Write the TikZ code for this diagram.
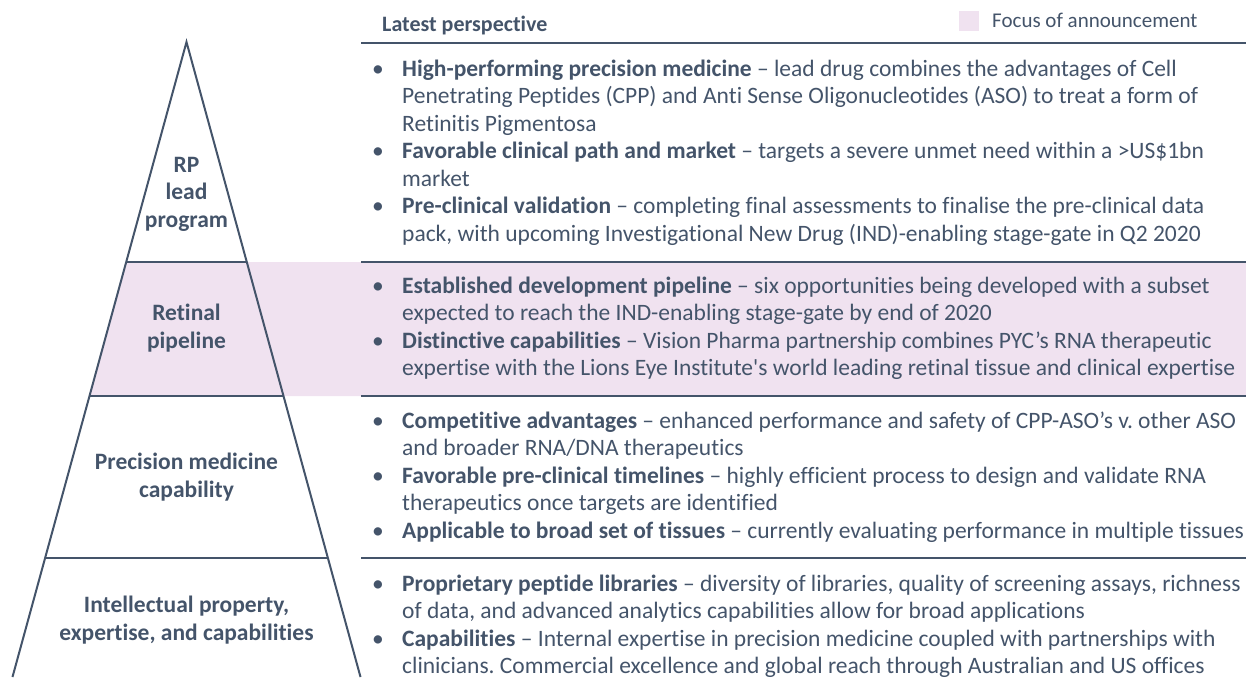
\documentclass[tikz,border=0pt]{standalone}
\usepackage{fontspec}
\setmainfont[Ligatures={NoCommon}]{Carlito}
\usetikzlibrary{calc}

\definecolor{slate}{HTML}{44546A}
\definecolor{focus}{RGB}{240,226,240}
\frenchspacing

\begin{document}
\begin{tikzpicture}[x=1pt,y=-1pt]
    \tikzstyle{every node}=[text=slate, inner sep=0pt, font=\fontsize{23.5}{27.5}\selectfont]
    \tikzstyle{tier}=[align=center, font=\fontsize{23.5}{27.5}\selectfont\bfseries]
    % item nodes sit on the baseline of their last line
    \tikzstyle{item}=[anchor=base west, align=left]
    \tikzstyle{dot}=[anchor=base]
    \tikzstyle{rule}=[slate, line width=1.5pt]
    \tikzstyle{edge}=[slate, line width=2pt]

    \useasboundingbox (0,0) rectangle (1246,677);

    % pyramid outline and tier borders
    \coordinate (top) at (186.5,42);
    \coordinate (bl) at (12.5,677);
    \coordinate (br) at (360.5,677);
    \coordinate (l1) at ($(top)!0.3465!(bl)$);
    \coordinate (r1) at ($(top)!0.3465!(br)$);
    \coordinate (l2) at ($(top)!0.5575!(bl)$);
    \coordinate (r2) at ($(top)!0.5575!(br)$);
    \coordinate (l3) at ($(top)!0.8126!(bl)$);
    \coordinate (r3) at ($(top)!0.8126!(br)$);

    % highlighted row
    \fill[focus] (l1) -- (1246,262) -- (1246,396) -- (l2) -- cycle;

    \draw[rule] (361,43) -- (1246,43);
    \draw[rule] (361,262) -- (1246,262);
    \draw[rule] (361,396) -- (1246,396);
    \draw[rule] (361,558) -- (1246,558);

    \draw[edge] (bl) -- (top) -- (br);
    \draw[edge] (l1) -- (r1);
    \draw[edge] (l2) -- (r2);
    \draw[edge] (l3) -- (r3);

    \node[tier] (rp) at (186.5,194) {RP\\lead\\program};
    \node[tier] (retinal) at (186.5,328) {Retinal\\pipeline};
    \node[tier] (precision) at (186.5,477) {Precision medicine\\capability};
    \node[tier] (ip) at (186.5,620) {Intellectual property,\\expertise, and capabilities};

    % header and legend
    \node[anchor=base west, font=\fontsize{22}{26}\selectfont\bfseries] (head) at (382,32) {Latest perspective};
    \node[fill=focus, minimum size=20pt] (key) at (969,21) {};
    \node[anchor=base west, font=\fontsize{21}{25}\selectfont] (keytext) at (992,28) {Focus of announcement};

    % lead program
    \node[dot] (d1) at (378,76) {•};
    \node[item] (i1) at (402,131) {\textbf{High-performing precision medicine} – lead drug combines the advantages of Cell\\Penetrating Peptides (CPP) and Anti Sense Oligonucleotides (ASO) to treat a form of\\Retinitis Pigmentosa};
    \node[dot] (d2) at (378,158.5) {•};
    \node[item] (i2) at (402,186) {\textbf{Favorable clinical path and market} – targets a severe unmet need within a >US\$1bn\\market};
    \node[dot] (d3) at (378,213.5) {•};
    \node[item] (i3) at (402,241) {\textbf{Pre-clinical validation} – completing final assessments to finalise the pre-clinical data\\pack, with upcoming Investigational New Drug (IND)-enabling stage-gate in Q2 2020};

    % retinal pipeline
    \node[dot] (d4) at (378,293) {•};
    \node[item] (i4) at (402,320.5) {\textbf{Established development pipeline} – six opportunities being developed with a subset\\expected to reach the IND-enabling stage-gate by end of 2020};
    \node[dot] (d5) at (378,348) {•};
    \node[item] (i5) at (402,375.5) {\textbf{Distinctive capabilities} – Vision Pharma partnership combines PYC’s RNA therapeutic\\expertise with the Lions Eye Institute\textquotesingle s world leading retinal tissue and clinical expertise};

    % precision medicine
    \node[dot] (d6) at (378,428) {•};
    \node[item] (i6) at (402,455.5) {\textbf{Competitive advantages} – enhanced performance and safety of CPP-ASO’s v. other ASO\\and broader RNA/DNA therapeutics};
    \node[dot] (d7) at (378,483) {•};
    \node[item] (i7) at (402,510.5) {\textbf{Favorable pre-clinical timelines} – highly efficient process to design and validate RNA\\therapeutics once targets are identified};
    \node[dot] (d8) at (378,538) {•};
    \node[item] (i8) at (402,538) {\textbf{Applicable to broad set of tissues} – currently evaluating performance in multiple tissues};

    % intellectual property
    \node[dot] (d9) at (378,591) {•};
    \node[item] (i9) at (402,618.5) {\textbf{Proprietary peptide libraries} – diversity of libraries, quality of screening assays, richness\\of data, and advanced analytics capabilities allow for broad applications};
    \node[dot] (d10) at (378,646) {•};
    \node[item] (i10) at (402,673.5) {\textbf{Capabilities} – Internal expertise in precision medicine coupled with partnerships with\\clinicians. Commercial excellence and global reach through Australian and US offices};
\end{tikzpicture}
\end{document}
